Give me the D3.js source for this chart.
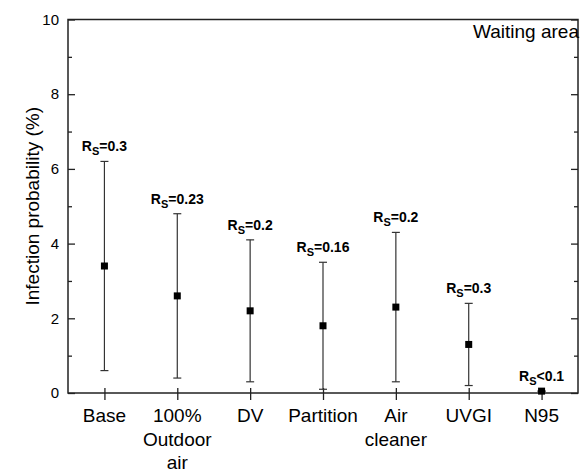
<!DOCTYPE html>
<html>
<meta charset="utf-8">
<style>
    body { margin: 0; background: #fff; }
    svg { display: block; font-family: Arial, "Liberation Sans", sans-serif; }
    .frame { fill: none; stroke: #222; stroke-width: 1.5; }
    .tick line { stroke: #222; stroke-width: 1.3; }
    .bar { stroke: #333; stroke-width: 1.2; }
</style>
<body>
<script src="https://cdn.jsdelivr.net/npm/d3@7"></script>
<script>
// categories (line-broken as in the figure)
var categories = ["Base", "100% Outdoor air", "DV", "Partition", "Air cleaner", "UVGI", "N95"];
var labelLines = [["Base"], ["100%", "Outdoor", "air"], ["DV"], ["Partition"], ["Air", "cleaner"], ["UVGI"], ["N95"]];
var means = [3.4, 2.6, 2.2, 1.8, 2.3, 1.3, 0.05];
var lower = [0.6, 0.4, 0.3, 0.1, 0.3, 0.2, 0.05];
var upper = [6.2, 4.8, 4.1, 3.5, 4.3, 2.4, 0.05];
var rsText = ["=0.3", "=0.23", "=0.2", "=0.16", "=0.2", "=0.3", "<0.1"];
var yMajor = [0, 2, 4, 6, 8, 10];
var yMinor = [1, 3, 5, 7, 9];

var W = 585, H = 472;
var m = {top: 19.5, right: 7, bottom: 79, left: 68};
var iw = W - m.left - m.right, ih = H - m.top - m.bottom;

var svg = d3.select("body").append("svg").attr("width", W).attr("height", H);
var g = svg.append("g").attr("transform", "translate(" + m.left + "," + m.top + ")");

var x = d3.scalePoint().domain(categories).range([0, iw]).padding(0.5);
var y = d3.scaleLinear().domain([0, 10]).range([ih, 0]);

// y axis left: inward ticks
var yl = g.append("g").call(d3.axisRight(y).tickValues(yMajor).tickSize(7).tickFormat(""));
yl.select(".domain").remove();
g.append("g").call(d3.axisRight(y).tickValues(yMinor).tickSize(4).tickFormat("")).select(".domain").remove();
// tick labels
g.selectAll(".ylab").data(yMajor).enter().append("text")
    .attr("x", -9).attr("y", function(d) { return y(d); })
    .attr("dy", "0.35em").attr("text-anchor", "end")
    .style("font-size", "15px").text(function(d) { return d; });

// right axis: inward ticks
g.append("g").attr("transform", "translate(" + iw + ",0)")
    .call(d3.axisLeft(y).tickValues(yMajor).tickSize(7).tickFormat("")).select(".domain").remove();
g.append("g").attr("transform", "translate(" + iw + ",0)")
    .call(d3.axisLeft(y).tickValues(yMinor).tickSize(4).tickFormat("")).select(".domain").remove();

// bottom axis ticks crossing the line
var xb = g.append("g").attr("transform", "translate(0," + (ih - 5) + ")")
    .call(d3.axisBottom(x).tickSize(12).tickFormat(""));
xb.select(".domain").remove();

// frame
g.append("rect").attr("class", "frame").attr("width", iw).attr("height", ih);

// category labels
categories.forEach(function(c, i) {
    var t = g.append("text").attr("text-anchor", "middle").style("font-size", "19px");
    labelLines[i].forEach(function(line, k) {
        t.append("tspan").attr("x", x(c)).attr("y", ih + 29 + k * 23.5).text(line);
    });
});

// error bars
var cap = 4;
var bars = g.selectAll(".eb").data(categories).enter().append("g").attr("class", "eb");
bars.append("line").attr("class", "bar")
    .attr("x1", function(d) { return x(d); }).attr("x2", function(d) { return x(d); })
    .attr("y1", function(d, i) { return y(lower[i]); }).attr("y2", function(d, i) { return y(upper[i]); });
bars.append("line").attr("class", "bar")
    .attr("x1", function(d) { return x(d) - cap; }).attr("x2", function(d) { return x(d) + cap; })
    .attr("y1", function(d, i) { return y(upper[i]); }).attr("y2", function(d, i) { return y(upper[i]); });
bars.append("line").attr("class", "bar")
    .attr("x1", function(d) { return x(d) - cap; }).attr("x2", function(d) { return x(d) + cap; })
    .attr("y1", function(d, i) { return y(lower[i]); }).attr("y2", function(d, i) { return y(lower[i]); });
bars.append("rect")
    .attr("x", function(d) { return x(d) - 3.5; })
    .attr("y", function(d, i) { return y(means[i]) - 3.5; })
    .attr("width", 7).attr("height", 7).attr("fill", "#000");

// R_s labels
categories.forEach(function(c, i) {
    var t = g.append("text").attr("text-anchor", "middle")
        .attr("x", x(c)).attr("y", y(upper[i]) - 10)
        .style("font-size", "14px").style("font-weight", "bold");
    t.append("tspan").text("R");
    t.append("tspan").attr("dy", 4).style("font-size", "11px").text("S");
    t.append("tspan").attr("dy", -4).text(rsText[i]);
});

// panel label
g.append("text").attr("x", iw + 1).attr("y", 18).attr("text-anchor", "end")
    .style("font-size", "19px").text("Waiting area");

// y title
svg.append("text").attr("transform", "translate(32," + (m.top + ih / 2) + ") rotate(-90)")
    .attr("text-anchor", "middle").attr("dy", "0.35em")
    .style("font-size", "19px").text("Infection probability (%)");
</script>
</body>
</html>
